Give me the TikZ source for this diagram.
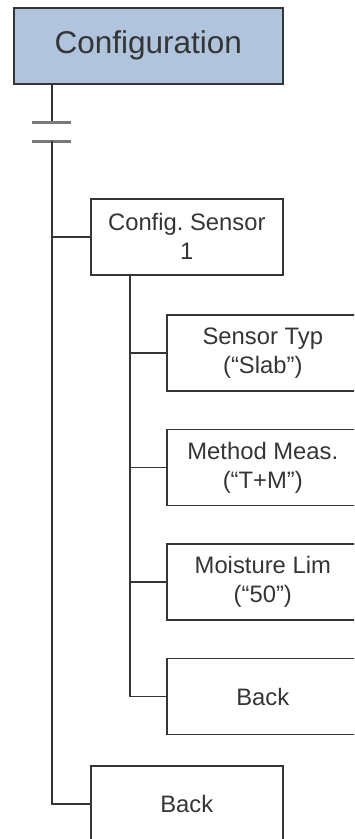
\documentclass[tikz,border=0pt]{standalone}
\usepackage{fontspec}
\setmainfont{Liberation Sans}
\usepackage{xcolor}
\usetikzlibrary{positioning}
\definecolor{cfgblue}{HTML}{B0C4DE}
\definecolor{edge}{HTML}{353535}
\definecolor{bargray}{HTML}{7A7A7A}

\begin{document}
\begin{tikzpicture}[
  x=1pt, y=-1pt,
  menu/.style={rectangle, draw=edge, line width=1.6pt, text=edge, align=center,
               minimum width=192pt, minimum height=76pt, inner sep=0pt,
               font=\fontsize{23.8}{29}\selectfont},
  head/.style={menu, fill=cfgblue, minimum width=269pt,
               font=\fontsize{31.5}{36}\selectfont},
  link/.style={draw=edge, line width=1.6pt},
  bar/.style={draw=bargray, line width=3pt}
]
\clip (0,0) rectangle (354,839);

\node[head, anchor=north west] (cfg) at (13,7) {Configuration};
\node[menu, anchor=north west] (sens) at (90,198) {Config.\ Sensor\\1};
\node[menu, anchor=north west] (typ) at (166,314) {Sensor Typ\\(“Slab”)};
\node[menu, below=37pt of typ]   (meth)  {Method Meas.\\(“T+M”)};
\node[menu, below=37pt of meth]  (moist) {Moisture Lim\\(“50”)};
\node[menu, below=37pt of moist] (back1) {Back};
\node[menu, anchor=north west] (back0) at (90,765) {Back};

% main trunk with the two bars
\coordinate (bar1) at (52,122);
\coordinate (bar2) at (52,141);
\draw[link] (cfg.south -| bar1) -- (bar1);
\draw[bar] ([xshift=-20pt]bar1) -- ([xshift=19pt]bar1);
\draw[bar] ([xshift=-20pt]bar2) -- ([xshift=19pt]bar2);
\draw[link] (bar2) |- (sens.west);
\draw[link] (bar2) |- (back0.west);

% sensor sub menu
\coordinate (stem) at ([xshift=40pt]sens.south west);
\foreach \n in {typ,meth,moist,back1}
  \draw[link] (stem) |- (\n.west);

\end{tikzpicture}
\end{document}
